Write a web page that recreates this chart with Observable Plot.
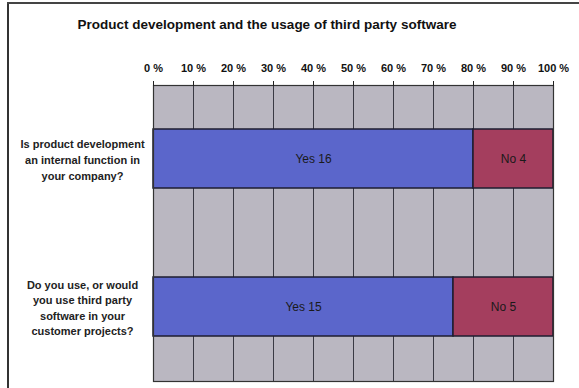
<!DOCTYPE html>
<html><head><meta charset="utf-8">
<script src="https://cdn.jsdelivr.net/npm/d3@7"></script>
<script src="https://cdn.jsdelivr.net/npm/@observablehq/plot@0.6"></script>
<style>
body{margin:0;background:#fff;font-family:"Liberation Sans",Arial,sans-serif;}
#wrap{position:relative;width:579px;height:388px;overflow:hidden;background:#fff;}
#frameL{position:absolute;left:7px;top:2px;width:2px;height:386px;background:#333;}
#frameT{position:absolute;left:7px;top:2px;width:572px;height:2px;background:#444;}
#title{position:absolute;left:0;top:17px;width:534px;text-align:center;font-weight:bold;font-size:13.5px;color:#111;}
#chart{position:absolute;left:0;top:40px;}
</style></head>
<body>
<div id="wrap"><div id="frameL"></div><div id="frameT"></div>
<div id="title">Product development and the usage of third party software</div>
<div id="chart"></div></div>
<script>
const questions = [
  "Is product development\nan internal function in\nyour company?",
  "Do you use, or would\nyou use third party\nsoftware in your\ncustomer projects?"
];
const answers = ["Yes", "No"];
const yesCounts = [16, 15];
const noCounts = [4, 5];
const tickValues = [0, 10, 20, 30, 40, 50, 60, 70, 80, 90, 100];

const rows = [];
questions.forEach((q, i) => {
  const total = yesCounts[i] + noCounts[i];
  const yesPct = yesCounts[i] / total * 100;
  rows.push({q, answer: "Yes", n: yesCounts[i], x1: 0, x2: yesPct});
  rows.push({q, answer: "No", n: noCounts[i], x1: yesPct, x2: 100});
});

const chart = Plot.plot({
  width: 579,
  height: 348,
  marginLeft: 153,
  marginRight: 26,
  marginTop: 45,
  marginBottom: 7,
  style: {fontFamily: "Liberation Sans, Arial, sans-serif", background: "transparent"},
  x: {domain: [0, 100], axis: null},
  y: {domain: questions, paddingInner: 0.6, paddingOuter: 0.3, axis: null},
  color: {domain: answers, range: ["#5b66cb", "#a43e5e"]},
  marks: [
    Plot.frame({fill: "#bab7c1", stroke: null}),
    Plot.ruleX(tickValues.slice(1, -1), {stroke: "#3a3a44", strokeWidth: 1}),
    Plot.barX(rows, {x1: "x1", x2: "x2", y: "q", fill: "answer", stroke: "#1e1e30", strokeWidth: 1.5}),
    Plot.text(rows, {x: d => (d.x1 + d.x2) / 2, y: "q", text: d => `${d.answer} ${d.n}`, fill: "#1a1a1a", fontSize: 12}),
    Plot.frame({stroke: "#333", strokeWidth: 1.2}),
    Plot.axisX({anchor: "top", ticks: tickValues, tickFormat: d => `${d} %`, tickSize: 5, tickPadding: 9, fontSize: 11, fontWeight: "bold", stroke: "#222", fill: "#111"}),
    Plot.text(questions, {y: d => d, text: d => d, frameAnchor: "left", dx: -71, textAnchor: "middle", lineHeight: 1.42, fontSize: 11, fontWeight: "bold", fill: "#222"})
  ]
});
document.getElementById("chart").appendChild(chart);
</script>
</body></html>
